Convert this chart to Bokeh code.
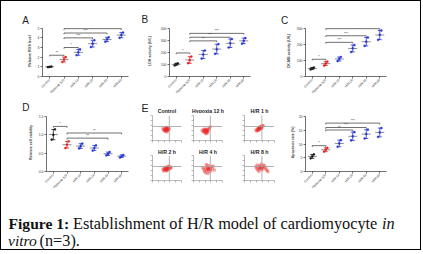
import math
import numpy as np
from bokeh.plotting import figure
from bokeh.models import Range1d, FixedTicker, Label, Span
from bokeh.layouts import row, column
from bokeh.embed import file_html
from bokeh.resources import INLINE
from bokeh.core.properties import value

# ---------------- data ----------------
categories = ["Control", "Hypoxia 12h", "H/R 1h", "H/R 2h", "H/R 4h", "H/R 8h"]
group_colors = ["#1a1a1a", "#e3211f", "#2436d8", "#2436d8", "#2436d8", "#2436d8"]

ros_points = [[0.97, 1.00, 1.03], [1.50, 1.75, 2.00], [2.20, 2.50, 2.80],
              [3.05, 3.40, 3.75], [3.60, 3.85, 4.05], [4.00, 4.30, 4.55]]
ros_ticks = [0, 1, 2, 3, 4, 5]
ros_sig = [(0, 1, 2.2, "**"), (1, 2, 3.0, "*"), (1, 3, 4.0, "***"),
           (1, 4, 4.5, "***"), (1, 5, 4.95, "***")]

ldh_points = [[92, 103, 108], [110, 135, 165], [148, 182, 215],
              [188, 225, 268], [240, 275, 310], [272, 295, 318]]
ldh_ticks = [0, 100, 200, 300, 400]
ldh_sig = [(0, 1, 195, "*"), (1, 3, 295, "**"), (1, 4, 325, "***"), (1, 5, 357, "***")]

ckmb_points = [[44, 50, 56], [68, 80, 92], [96, 109, 121],
               [152, 175, 195], [190, 216, 242], [228, 259, 285]]
ckmb_ticks = [0, 100, 200, 300]
ckmb_sig = [(0, 1, 107, "*"), (1, 3, 212, "***"), (1, 4, 253, "***"), (1, 5, 297, "***")]

via_points = [[0.87, 1.00, 1.15], [0.64, 0.73, 0.82], [0.63, 0.69, 0.76],
              [0.57, 0.64, 0.71], [0.44, 0.48, 0.53], [0.38, 0.42, 0.45]]
via_ticks = [0.0, 0.5, 1.0, 1.5]
via_sig = [(0, 1, 1.23, "*"), (1, 4, 0.91, "**"), (1, 5, 1.05, "**")]

apo_points = [[4.8, 5.5, 6.2], [7.2, 7.9, 8.6], [9.0, 10.2, 11.4],
              [11.3, 12.8, 14.3], [12.0, 13.6, 15.2], [12.6, 14.2, 15.8]]
apo_ticks = [0, 5, 10, 15, 20]
apo_sig = [(0, 1, 9.4, "*"), (1, 3, 15.1, "**"), (1, 4, 16.0, "***"), (1, 5, 17.6, "***")]

flow_titles = ["Control", "Hypoxia 12 h", "H/R 1 h", "H/R 2 h", "H/R 4 h", "H/R 8 h"]
quad_x = 58
quad_y = 56
fc_control_x = [48, 45, 50, 52, 46, 44, 49, 53, 47, 42, 51, 55, 40, 48, 56, 44, 38, 58, 50, 36, 47, 49, 51, 46]
fc_control_y = [45, 42, 48, 44, 47, 40, 41, 47, 50, 44, 39, 43, 46, 53, 50, 36, 40, 46, 34, 48, 44, 46, 43, 45]
fc_hyp_x = [42, 38, 45, 40, 47, 36, 44, 49, 41, 35, 50, 39, 46, 33, 52, 43, 55, 30, 48, 58, 42, 44, 40, 43]
fc_hyp_y = [38, 35, 40, 42, 36, 39, 33, 42, 30, 44, 37, 46, 45, 34, 46, 27, 50, 40, 30, 55, 37, 39, 37, 41]
fc_hr1_x = [52, 48, 55, 50, 57, 45, 53, 60, 43, 49, 56, 46, 40, 62, 51, 58, 44, 54, 38, 47, 52, 54, 50, 51]
fc_hr1_y = [50, 46, 53, 47, 56, 43, 49, 58, 40, 52, 48, 49, 38, 60, 44, 52, 46, 57, 42, 40, 51, 50, 48, 53]
fc_hr2_x = [50, 46, 54, 48, 56, 43, 52, 58, 44, 47, 60, 40, 53, 38, 62, 49, 56, 42, 64, 36, 51, 49, 53, 47]
fc_hr2_y = [46, 43, 49, 50, 45, 46, 42, 52, 40, 53, 48, 44, 55, 38, 55, 38, 58, 50, 50, 46, 47, 45, 48, 47]
fc_hr4_x = [50, 44, 56, 48, 58, 40, 52, 62, 38, 46, 65, 35, 54, 42, 60, 32, 68, 50, 45, 72, 51, 53, 48, 55]
fc_hr4_y = [45, 40, 50, 52, 44, 48, 36, 55, 36, 58, 48, 44, 60, 30, 38, 52, 58, 28, 65, 42, 47, 44, 46, 49]
fc_hr8_x = [55, 50, 60, 52, 62, 46, 58, 66, 44, 50, 70, 40, 64, 48, 72, 38, 75, 56, 78, 42, 55, 57, 53, 59]
fc_hr8_y = [50, 46, 54, 55, 48, 50, 42, 58, 42, 60, 52, 48, 62, 36, 45, 55, 40, 66, 35, 62, 51, 49, 52, 53]

panel_letters = ["A", "B", "C", "D", "E"]
caption_bold = "Figure 1:"
caption_main = "Establishment of H/R model of cardiomyocyte"
caption_it1 = "in"
caption_it2 = "vitro"
caption_end = "(n=3)."

SANS = "Liberation Sans"
SERIF = "Liberation Serif"


# ---------------- text strips (frame == canvas, so labels are never clipped) -------------
def strip(width, height, origin):
    s = figure(width=width, height=height, output_backend="svg", toolbar_location=None,
               x_axis_type=None, y_axis_type=None, min_border=0, title=None,
               x_range=Range1d(0, 1), y_range=Range1d(0, 1))
    s.outline_line_color = None
    s.xgrid.visible = False
    s.ygrid.visible = False

    def add(text, ax, ay, font=SANS, size="10px", style="normal", align="left",
            baseline="alphabetic", color="#222222"):
        s.add_layout(Label(x=ax - origin[0], y=origin[1] + height - ay,
                           x_units="screen", y_units="screen", text=text,
                           text_font=font, text_font_size=size, text_font_style=style,
                           text_align=align, text_baseline=baseline, text_color=color))
    return s, add


def bar_panel(points, ticks, tick_labels, ylabel, sig, width, height, ml, mr, fh, tick_px,
              lab_standoff):
    n = len(categories)
    ymax = ticks[-1]
    ytop = ymax * fh / tick_px          # headroom above the last tick for brackets / stars
    mb = height - fh
    p = figure(width=width, height=height, output_backend="svg", toolbar_location=None,
               title=None, x_range=Range1d(0, n), y_range=Range1d(0, ytop),
               min_border_left=ml, min_border_right=mr, min_border_top=0, min_border_bottom=mb)
    p.outline_line_color = None
    p.xgrid.visible = False
    p.ygrid.visible = False
    p.background_fill_color = None
    xc = np.arange(n) + 0.5
    pts = np.array(points, dtype=float)
    means = pts.mean(axis=1)
    sds = pts.std(axis=1, ddof=1)
    p.scatter(xc, means, marker="dash", size=9, line_color="#8e8e8e", line_width=1.0)
    p.segment(xc, means - sds, xc, means + sds, line_color=group_colors, line_width=0.8)
    p.scatter(np.r_[xc, xc], np.r_[means - sds, means + sds], marker="dash", size=4,
              line_color=group_colors + group_colors, line_width=0.8)
    offs = np.array([-0.12, 0.0, 0.12])
    px = (xc[:, None] + offs[None, :]).ravel()
    pc = [c for c in group_colors for _ in range(3)]
    p.scatter(px, pts.ravel(), size=2.2, fill_color=pc, line_color=pc, line_width=0.3)
    drop = ymax * 0.025
    bx0 = [s[0] + 0.5 for s in sig]
    bx1 = [s[1] + 0.5 for s in sig]
    by = [s[2] for s in sig]
    p.segment(bx0, by, bx1, by, line_color="#333333", line_width=0.7)
    p.segment(bx0 + bx1, [y - drop for y in by] * 2, bx0 + bx1, by * 2,
              line_color="#333333", line_width=0.7)
    p.text([(a + b) / 2 for a, b in zip(bx0, bx1)], [y + ymax * 0.005 for y in by],
           text=[s[3] for s in sig], text_font=value(SANS), text_font_size="3.5px",
           text_align="center", text_baseline="bottom", text_color="#333333")
    xa = p.xaxis[0]
    xa.ticker = FixedTicker(ticks=list(xc))
    xa.major_label_overrides = {float(x): c for x, c in zip(xc, categories)}
    xa.major_label_orientation = math.pi / 4
    ya = p.yaxis[0]
    ya.ticker = FixedTicker(ticks=list(ticks))
    ya.bounds = (0, ymax)
    ya.major_label_overrides = {float(t): l for t, l in zip(ticks, tick_labels)}
    ya.axis_label = ylabel
    ya.axis_label_text_font_size = "3.6px"
    ya.axis_label_text_font_style = "bold"
    ya.axis_label_text_font = SANS
    ya.axis_label_standoff = lab_standoff
    for ax in (xa, ya):
        ax.major_label_text_font_size = "3.4px"
        ax.major_label_text_font = SANS
        ax.major_label_standoff = 1
        ax.major_tick_out = 2
        ax.major_tick_in = 0
        ax.minor_tick_line_color = None
        ax.axis_line_width = 0.7
        ax.axis_line_color = "#333333"
        ax.major_tick_line_color = "#333333"
        ax.major_tick_line_width = 0.7
        ax.major_label_text_color = "#333333"
    return p


def flow_panel(xs, ys, width, height, ml, mr, mt, mb):
    p = figure(width=width, height=height, output_backend="svg", toolbar_location=None,
               title=None, x_range=Range1d(0, 100), y_range=Range1d(0, 100),
               min_border_left=ml, min_border_right=mr, min_border_top=mt, min_border_bottom=mb)
    p.outline_line_color = None
    p.xgrid.visible = False
    p.ygrid.visible = False
    p.scatter(xs, ys, size=3.6, fill_color="#ec2c2c", fill_alpha=0.42, line_color=None)
    p.add_layout(Span(location=quad_x, dimension="height", line_color="#a0a0a0", line_width=0.8))
    p.add_layout(Span(location=quad_y, dimension="width", line_color="#a0a0a0", line_width=0.8))
    fticks = [0, 20, 40, 60, 80, 100]
    for ax in (p.xaxis[0], p.yaxis[0]):
        ax.ticker = FixedTicker(ticks=fticks)
        ax.major_label_overrides = {t: "" for t in fticks}
        ax.major_tick_out = 2
        ax.major_tick_in = 0
        ax.minor_tick_line_color = None
        ax.axis_line_color = "#777777"
        ax.axis_line_width = 0.5
        ax.major_tick_line_color = "#777777"
        ax.major_tick_line_width = 0.5
        ax.major_label_text_font_size = "2px"
        ax.major_label_standoff = 0
    return p


# ---------------- top row ----------------
s1, add1 = strip(419, 24, (1, 1))
add1(panel_letters[0], 21.7, 20.0)
add1(panel_letters[1], 141, 19.3)
add1(panel_letters[2], 280.5, 19.5)

pA = bar_panel(ros_points, ros_ticks, [str(t) for t in ros_ticks], "Relative ROS level", ros_sig,
               139, 73, 41, 12, 57, 54, 3)
pB = bar_panel(ldh_points, ldh_ticks, [str(t) for t in ldh_ticks], "LDH activity (U/L)", ldh_sig,
               140, 73, 29, 30, 57, 54, 6)
pC = bar_panel(ckmb_points, ckmb_ticks, [str(t) for t in ckmb_ticks], "CK-MB activity (U/L)", ckmb_sig,
               139, 73, 25, 33, 57, 54, 3)

# ---------------- bottom row ----------------
s2, add2 = strip(419, 15, (1, 98))
add2(panel_letters[3], 21.7, 106.7)
add2(panel_letters[4], 141, 107, size="10.5px")
flow_cx = [166.5, 207.5, 259]
for t, cx in zip(flow_titles[:3], flow_cx):
    add2(t, cx, 110, size="5.2px", style="bold", align="center", baseline="middle")

pD = bar_panel(via_points, via_ticks, ["%.1f" % t for t in via_ticks], "Relative cell viability", via_sig,
               139, 86, 45, 12, 58, 55, 3)
pF = bar_panel(apo_points, apo_ticks, [str(t) for t in apo_ticks], "Apoptosis rate (%)", apo_sig,
               133, 86, 19, 33, 58, 55, 1)

f1 = flow_panel(fc_control_x, fc_control_y, 46, 31, 12, 5, 2, 4)
f2 = flow_panel(fc_hyp_x, fc_hyp_y, 46, 31, 7, 10, 2, 4)
f3 = flow_panel(fc_hr1_x, fc_hr1_y, 54, 31, 12, 12, 2, 4)

s3, add3 = strip(146, 11, (140, 144))
for t, cx in zip(flow_titles[3:], flow_cx):
    add3(t, cx, 150, size="5.2px", style="bold", align="center", baseline="middle")

f4 = flow_panel(fc_hr2_x, fc_hr2_y, 46, 44, 12, 5, 0, 19)
f5 = flow_panel(fc_hr4_x, fc_hr4_y, 46, 44, 7, 10, 0, 19)
f6 = flow_panel(fc_hr8_x, fc_hr8_y, 54, 44, 12, 12, 0, 19)

# ---------------- caption ----------------
cap, addc = strip(419, 50, (1, 199))
addc(caption_bold, 8, 222.5, font=SERIF, size="15.6px", style="bold", color="#111111")
addc(caption_main, 72.5, 222.5, font=SERIF, size="16.3px", color="#111111")
addc(caption_it1, 381.5, 222.5, font=SERIF, size="16.3px", style="italic", color="#111111")
addc(caption_it2, 7.5, 240, font=SERIF, size="15.6px", style="italic", color="#111111")
addc(caption_end, 39, 240, font=SERIF, size="16.3px", color="#111111")

eblock = column(row(f1, f2, f3), s3, row(f4, f5, f6))
layout = column(s1, row(pA, pB, pC), s2, row(pD, eblock, pF), cap,
                styles={"border": "1px solid #000000"})

open("out.html", "w").write(file_html(layout, INLINE))
